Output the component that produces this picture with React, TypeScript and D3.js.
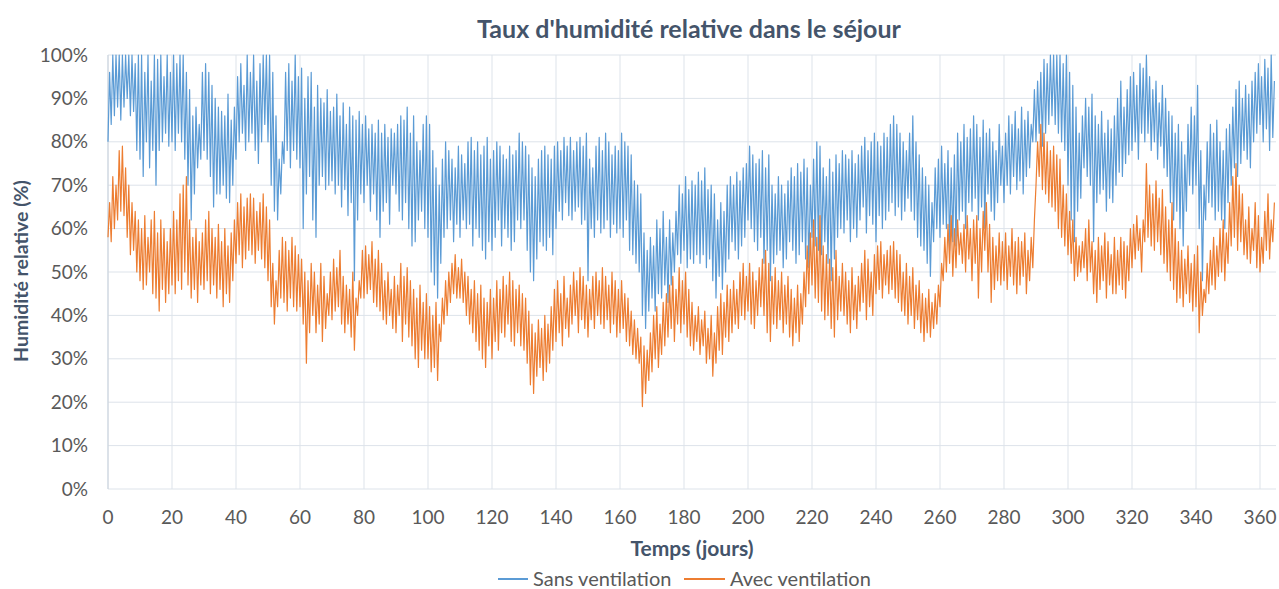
import React from "react";
import * as d3 from "d3";

const title = "Taux d'humidité relative dans le séjour";
const xTitle = "Temps (jours)";
const yTitle = "Humidité relative (%)";
const seriesNames = ["Sans ventilation", "Avec ventilation"];
const xTicks = [0, 20, 40, 60, 80, 100, 120, 140, 160, 180, 200, 220, 240, 260, 280, 300, 320, 340, 360];
const yTicks = [0, 10, 20, 30, 40, 50, 60, 70, 80, 90, 100];

// Daily maximum / minimum relative humidity (%)
const sansHigh = [
  96,100,100,100,100, 100,100,100,98,100, 100,96,100,94,100, 99,100,95,100,96,
  100,98,100,100,96, 92,86,88,84,96, 98,96,93,90,88, 87,86,91,85,88,
  95,98,93,100,96, 100,94,98,100,100, 100,96,86,76,80, 96,98,94,100,95,
  97,90,95,96,88, 93,90,89,92,87, 88,91,86,89,84, 88,86,85,87,84,
  86,83,84,82,85, 82,84,81,83,82, 84,86,85,88,82, 86,80,78,84,86,
  84,78,74,70,76, 80,78,76,74,79, 77,75,80,81,78, 80,77,79,81,76,
  78,80,79,77,76, 79,77,78,82,80, 79,77,74,72,76, 78,79,77,76,79,
  80,78,81,79,81, 78,80,81,79,82, 76,74,79,81,78, 82,80,77,79,78,
  82,80,79,77,71, 70,68,59,55,58, 56,62,60,64,58, 62,59,64,70,68,
  72,69,71,70,73, 71,74,69,70,68, 62,66,64,70,72, 70,73,71,74,75,
  79,77,75,76,78, 74,77,70,68,72, 70,68,71,74,72, 75,73,76,74,70,
  76,80,79,74,72, 76,73,77,75,78, 77,76,78,75,77, 79,81,78,80,82,
  80,79,82,81,84, 86,84,82,80,78, 82,86,80,77,74, 72,70,66,74,76,
  79,75,78,74,77, 82,80,84,81,83, 86,84,81,85,82, 83,80,78,84,79,
  82,86,84,87,83, 88,85,87,84,92, 94,96,99,98,100, 100,100,100,98,100,
  96,93,88,82,86, 90,88,91,86,84, 87,82,85,83,86, 90,94,88,92,95,
  96,93,98,97,100, 95,92,94,89,93, 90,87,86,82,84, 80,77,84,88,86,
  93,78,70,80,84, 82,85,80,78,83, 84,88,92,94,90, 93,91,94,96,98,
  95,99,97,100,94
];
const sansLow = [
  80,84,86,88,85, 88,90,86,87,78, 76,72,80,74,78, 70,78,80,82,79,
  80,78,82,80,76, 70,62,68,74,76, 78,76,72,65,68, 68,70,67,66,70,
  76,80,82,78,80, 82,78,75,80,84, 80,70,64,62,68, 75,78,74,78,76,
  74,60,68,72,62, 58,70,72,69,70, 71,68,70,65,69, 63,66,48,62,68,
  66,70,64,68,62, 58,64,66,61,70, 68,64,62,66,60, 56,57,62,64,60,
  58,50,47,44,52, 58,60,62,57,61, 58,62,60,61,56, 60,58,55,53,57,
  55,58,62,56,60, 58,55,57,62,60, 62,55,50,48,53, 57,56,55,58,54,
  60,64,62,66,63, 62,64,65,61,62, 48,60,58,62,59, 60,62,58,61,59,
  60,58,62,55,54, 52,50,40,37,41, 44,41,45,44,47, 43,47,50,54,52,
  55,51,53,52,54, 52,54,51,53,48, 44,49,46,50,53, 57,55,53,56,58,
  62,60,57,55,58, 52,55,48,52,54, 55,51,53,57,55, 52,54,57,53,51,
  58,56,55,54,57, 52,48,53,58,60, 59,62,57,60,58, 62,65,59,63,61,
  57,63,60,62,64, 66,63,65,62,64, 67,64,62,58,56, 55,52,49,57,60,
  58,61,60,55,57, 56,62,64,60,66, 64,67,62,65,60, 68,64,62,66,70,
  66,70,68,72,69, 71,68,72,74,80, 80,82,79,82,84, 86,84,82,80,78,
  70,62,57,64,67, 74,72,70,57,66, 68,69,64,67,66, 70,73,72,75,77,
  78,80,76,82,80, 82,78,80,76,79, 74,72,66,62,64, 60,56,64,70,68,
  70,60,48,62,66, 65,62,64,62,60, 66,70,74,72,75, 78,76,74,80,82,
  84,80,83,78,81
];
const avecHigh = [
  66,72,70,78,79, 74,70,66,64,62, 60,63,58,62,64, 59,62,60,57,60,
  64,62,68,70,72, 62,58,60,57,59, 62,64,60,58,61, 57,60,56,59,62,
  66,68,65,67,68, 67,64,66,68,65, 62,52,48,55,58, 57,55,58,56,54,
  53,50,48,52,50, 47,52,49,45,50, 53,51,55,49,47, 46,50,44,48,55,
  56,54,57,53,55, 52,48,50,46,49, 47,52,49,51,48, 46,44,47,43,45,
  42,40,43,38,44, 48,50,52,54,51, 53,50,49,46,48, 45,47,44,43,46,
  44,48,46,49,47, 50,48,46,47,45, 44,41,38,36,39, 37,40,38,42,46,
  48,45,49,44,47, 50,48,51,49,47, 46,49,50,48,51, 49,47,50,48,46,
  48,45,44,41,39, 37,35,33,32,36, 40,42,38,43,45, 47,49,46,51,48,
  50,46,43,40,42, 39,41,37,40,36, 42,45,43,47,46, 48,46,50,52,49,
  52,50,48,51,53, 55,52,49,51,48, 50,47,49,46,44, 47,45,50,56,59,
  62,58,63,56,54, 53,51,55,49,52, 50,48,51,47,49, 52,55,53,50,54,
  56,57,54,55,56, 57,55,54,50,52, 49,51,47,48,45, 44,46,43,45,47,
  52,58,61,63,60, 62,59,61,63,60, 62,63,60,64,66, 61,58,56,59,57,
  59,56,60,57,58, 57,59,55,58,62, 80,84,82,80,78, 79,77,76,70,68,
  64,62,58,56,57, 60,62,57,55,58, 56,59,57,54,58, 55,58,57,56,60,
  61,63,60,62,75, 70,68,71,67,69, 65,62,66,60,57, 55,53,56,52,54,
  56,50,46,52,55, 58,56,60,62,59, 66,72,75,70,68, 62,65,60,66,63,
  58,64,68,62,66
];
const avecLow = [
  58,57,60,62,64, 63,58,54,55,50, 48,46,47,50,45, 44,41,46,43,45,
  47,45,48,46,50, 47,44,46,43,47, 46,48,45,47,44, 46,42,45,43,48,
  52,54,51,53,55, 54,52,55,53,51, 48,42,38,42,44, 43,41,44,42,41,
  42,38,29,36,40, 36,38,34,37,40, 39,41,42,38,36, 38,35,32,40,44,
  44,45,46,43,42, 41,39,38,40,37, 36,40,34,38,35, 33,30,28,32,30,
  30,27,28,25,34, 38,40,43,45,44, 44,43,40,38,36, 34,32,30,28,33,
  30,34,32,36,35, 38,34,33,36,33, 32,29,24,22,26, 28,25,27,29,32,
  34,36,33,37,35, 38,40,36,39,37, 35,39,37,40,38, 37,39,36,38,35,
  36,37,34,33,31, 30,29,19,22,25, 27,30,28,31,33, 35,37,34,38,36,
  38,35,33,32,34, 31,33,29,30,26, 29,32,31,35,34, 36,38,37,40,39,
  41,38,37,40,42, 40,36,34,38,37, 39,36,38,35,33, 36,34,38,42,45,
  47,44,43,41,39, 40,37,35,39,41, 40,38,36,39,37, 41,43,39,42,40,
  45,46,44,47,45, 46,44,43,41,40, 38,40,37,39,36, 34,36,35,37,38,
  42,48,50,52,49, 51,54,52,50,53, 48,52,44,50,55, 50,43,46,48,47,
  48,46,49,47,45, 47,49,45,48,51, 70,72,69,68,66, 65,64,60,58,56,
  54,52,48,49,50, 51,48,50,45,43, 46,48,44,47,45, 45,47,46,44,48,
  51,53,55,50,57, 58,56,55,57,54, 52,50,48,46,43, 44,42,45,43,41,
  42,36,40,43,45, 47,46,49,50,48, 52,56,58,55,57, 54,53,52,55,51,
  50,52,55,53,57
];

const W = 1279, H = 589;
const M = { left: 108, right: 1276, top: 55, bottom: 489 };
const titleColor = "#44546A";
const textColor = "#595959";
const gridColor = "#DDE3EA";
const blue = "#5B9BD5";
const orange = "#ED7D31";
const font = "Lato, 'Open Sans', sans-serif";

function toPoints(low: number[], high: number[]) {
  const pts: [number, number][] = [];
  low.forEach((l, i) => {
    pts.push([i, l]);
    pts.push([i + 0.5, high[i]]);
  });
  return pts;
}

export default function App() {
  const x = d3.scaleLinear().domain([0, 365]).range([M.left, M.right]);
  const y = d3.scaleLinear().domain([0, 100]).range([M.bottom, M.top]);
  const line = d3
    .line<[number, number]>()
    .x((d) => x(d[0]))
    .y((d) => y(Math.min(100, d[1])));
  const sansPath = line(toPoints(sansLow, sansHigh)) || "";
  const avecPath = line(toPoints(avecLow, avecHigh)) || "";
  const legendY = 579;
  return (
    <svg width={W} height={H} style={{ position: "absolute", left: 0, top: 0, background: "#fff" }} fontFamily={font}>
      <rect width={W} height={H} fill="#fff" />
      <text x={689} y={38} textAnchor="middle" fontSize={25} fontWeight="bold" fill={titleColor}>{title}</text>
      {yTicks.map((t) => (
        <g key={"y" + t}>
          <line x1={M.left} x2={M.right} y1={y(t)} y2={y(t)} stroke={gridColor} strokeWidth={1} />
          <text x={88} y={y(t) + 6.5} textAnchor="end" fontSize={19} fill={textColor}>{t + "%"}</text>
        </g>
      ))}
      {xTicks.map((t) => (
        <g key={"x" + t}>
          <line x1={x(t)} x2={x(t)} y1={M.top} y2={M.bottom} stroke={gridColor} strokeWidth={1} />
          <text x={x(t)} y={524} textAnchor="middle" fontSize={19} fill={textColor}>{t}</text>
        </g>
      ))}
      <line x1={M.left} x2={M.left} y1={M.top} y2={M.bottom} stroke="#C9D2DC" />
      <path d={sansPath} fill="none" stroke={blue} strokeWidth={1.2} strokeLinejoin="round" />
      <path d={avecPath} fill="none" stroke={orange} strokeWidth={1.2} strokeLinejoin="round" />
      <text x={692} y={556} textAnchor="middle" fontSize={21} fontWeight="bold" fill={titleColor}>{xTitle}</text>
      <text transform={`translate(28, ${(M.top + M.bottom) / 2 - 1}) rotate(-90)`} textAnchor="middle" fontSize={19.5} fontWeight="bold" fill={titleColor}>{yTitle}</text>
      <line x1={498} x2={528} y1={legendY} y2={legendY} stroke={blue} strokeWidth={2} />
      <text x={533} y={legendY + 7} fontSize={20} fill={textColor}>{seriesNames[0]}</text>
      <line x1={684} x2={725} y1={legendY} y2={legendY} stroke={orange} strokeWidth={2} />
      <text x={730} y={legendY + 7} fontSize={20} fill={textColor}>{seriesNames[1]}</text>
    </svg>
  );
}
